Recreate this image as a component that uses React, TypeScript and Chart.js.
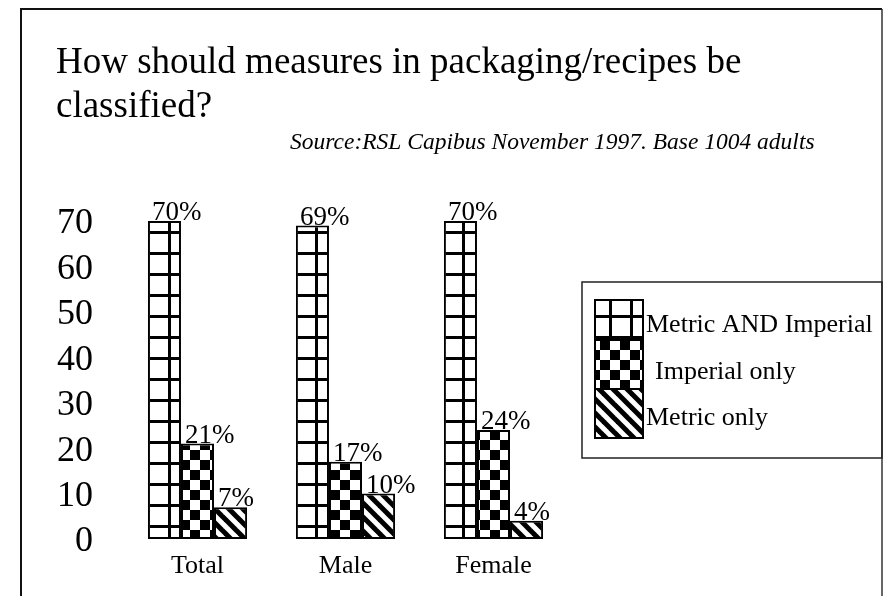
import React, { useEffect, useRef } from "react";
import { Chart, registerables } from "chart.js";

Chart.register(...registerables);

// ---- data ----
const TITLE_LINES = ["How should measures in packaging/recipes be", "classified?"];
const SOURCE_TEXT = "Source:RSL Capibus November 1997. Base 1004 adults";
const CATEGORIES = ["Total", "Male", "Female"];
const SERIES_LABELS = ["Metric AND Imperial", "Imperial only", "Metric only"];
const METRIC_AND_IMPERIAL = [70, 69, 70];
const IMPERIAL_ONLY = [21, 17, 24];
const METRIC_ONLY = [7, 10, 4];
const Y_TICKS = [0, 10, 20, 30, 40, 50, 60, 70];

const SERIF = '"Liberation Serif", "Times New Roman", serif';

type Kind = "grid" | "checker" | "stripes";

function makePattern(kind: Kind): CanvasPattern | string {
  const c = document.createElement("canvas");
  const size = kind === "grid" ? 21 : kind === "checker" ? 20 : 14;
  c.width = size;
  c.height = size;
  const ctx = c.getContext("2d");
  if (!ctx) return "#fff";
  ctx.fillStyle = "#fff";
  ctx.fillRect(0, 0, size, size);
  ctx.fillStyle = "#000";
  if (kind === "grid") {
    ctx.fillRect(0, 0, size, 3);
    ctx.fillRect(0, 0, 3, size);
  } else if (kind === "checker") {
    ctx.fillRect(0, 0, 10, 10);
    ctx.fillRect(10, 10, 10, 10);
  } else {
    ctx.strokeStyle = "#000";
    ctx.lineWidth = 5;
    for (let k = -1; k <= 1; k++) {
      ctx.beginPath();
      ctx.moveTo(k * size - 3, -3);
      ctx.lineTo(k * size + size + 3, size + 3);
      ctx.stroke();
    }
  }
  const p = ctx.createPattern(c, "repeat");
  return p || "#000";
}

const framePlugin = {
  id: "frame",
  beforeDraw(chart: any) {
    const ctx = chart.ctx;
    ctx.save();
    ctx.fillStyle = "#fff";
    ctx.fillRect(0, 0, chart.width, chart.height);
    ctx.strokeStyle = "#111";
    ctx.lineWidth = 2;
    ctx.beginPath();
    ctx.moveTo(21, chart.height);
    ctx.lineTo(21, 9);
    ctx.lineTo(882, 9);
    ctx.stroke();
    ctx.lineWidth = 1.5;
    ctx.strokeStyle = "#333";
    ctx.beginPath();
    ctx.moveTo(882, 9);
    ctx.lineTo(882, chart.height);
    ctx.stroke();
    // title
    ctx.fillStyle = "#000";
    ctx.textAlign = "left";
    ctx.textBaseline = "alphabetic";
    ctx.font = `37px ${SERIF}`;
    TITLE_LINES.forEach((line, i) => {
      ctx.fillText(line, 56, 73 + i * 44);
    });
    // source line
    ctx.font = `italic 23.5px ${SERIF}`;
    ctx.fillText(SOURCE_TEXT, 290, 149);
    ctx.restore();
  },
};

const valueLabelPlugin = {
  id: "valueLabels",
  afterDatasetsDraw(chart: any) {
    const ctx = chart.ctx;
    ctx.save();
    ctx.fillStyle = "#000";
    ctx.font = `27px ${SERIF}`;
    ctx.textAlign = "left";
    ctx.textBaseline = "alphabetic";
    chart.data.datasets.forEach((ds: any, di: number) => {
      const meta = chart.getDatasetMeta(di);
      meta.data.forEach((el: any, i: number) => {
        const left = el.x - el.width / 2;
        ctx.fillText(`${ds.data[i]}%`, left + 4, el.y - 1);
      });
    });
    ctx.restore();
  },
};

const legendPlugin = {
  id: "boxLegend",
  afterDraw(chart: any) {
    const ctx = chart.ctx;
    ctx.save();
    ctx.strokeStyle = "#222";
    ctx.lineWidth = 1.5;
    ctx.strokeRect(582, 282, 300, 176);
    const rows = [
      { top: 300, bottom: 340, textX: 646, textY: 325 },
      { top: 340, bottom: 389, textX: 655, textY: 372 },
      { top: 389, bottom: 438, textX: 646, textY: 418 },
    ];
    ctx.font = `26px ${SERIF}`;
    ctx.textAlign = "left";
    ctx.textBaseline = "middle";
    chart.data.datasets.forEach((ds: any, i: number) => {
      const r = rows[i];
      ctx.fillStyle = ds.backgroundColor;
      ctx.fillRect(595, r.top, 48, r.bottom - r.top);
      ctx.strokeStyle = "#000";
      ctx.lineWidth = 2;
      ctx.strokeRect(595, r.top, 48, r.bottom - r.top);
      ctx.fillStyle = "#000";
      ctx.fillText(ds.label, r.textX, r.textY);
    });
    ctx.restore();
  },
};

export default function App() {
  const ref = useRef<HTMLCanvasElement | null>(null);

  useEffect(() => {
    if (!ref.current) return;
    const patterns = [makePattern("grid"), makePattern("checker"), makePattern("stripes")];
    const seriesValues = [METRIC_AND_IMPERIAL, IMPERIAL_ONLY, METRIC_ONLY];
    const chart = new Chart(ref.current, {
      type: "bar",
      data: {
        labels: CATEGORIES,
        datasets: SERIES_LABELS.map((label, i) => ({
          label,
          data: seriesValues[i],
          backgroundColor: patterns[i] as any,
          borderColor: "#000",
          borderWidth: 2,
          borderSkipped: false,
        })),
      },
      options: {
        responsive: false,
        animation: false,
        events: [],
        datasets: { bar: { categoryPercentage: 0.67, barPercentage: 1 } },
        layout: { padding: { left: 56, right: 320.5, top: 221, bottom: 12 } },
        plugins: {
          legend: { display: false },
          tooltip: { enabled: false },
          title: { display: false },
        },
        scales: {
          x: {
            grid: { display: false, drawTicks: false },
            border: { display: false },
            ticks: { color: "#000", font: { family: SERIF, size: 26 }, padding: 12 },
            afterFit: (s: any) => {
              s.height = 45;
            },
          },
          y: {
            min: 0,
            max: 70,
            grid: { display: false, drawTicks: false },
            border: { display: false },
            afterBuildTicks: (s: any) => {
              s.ticks = Y_TICKS.map((v) => ({ value: v }));
            },
            ticks: {
              color: "#000",
              font: { family: SERIF, size: 36 },
              padding: 30.5,
              labelOffset: 3,
              autoSkip: false,
            },
            afterFit: (s: any) => {
              s.width = 67.5;
            },
          },
        },
      },
      plugins: [framePlugin, valueLabelPlugin, legendPlugin],
    });
    return () => chart.destroy();
  }, []);

  return (
    <div style={{ position: "absolute", left: 0, top: 0, width: 888, height: 596, background: "#fff" }}>
      <canvas ref={ref} width={888} height={596} style={{ display: "block" }} />
    </div>
  );
}
